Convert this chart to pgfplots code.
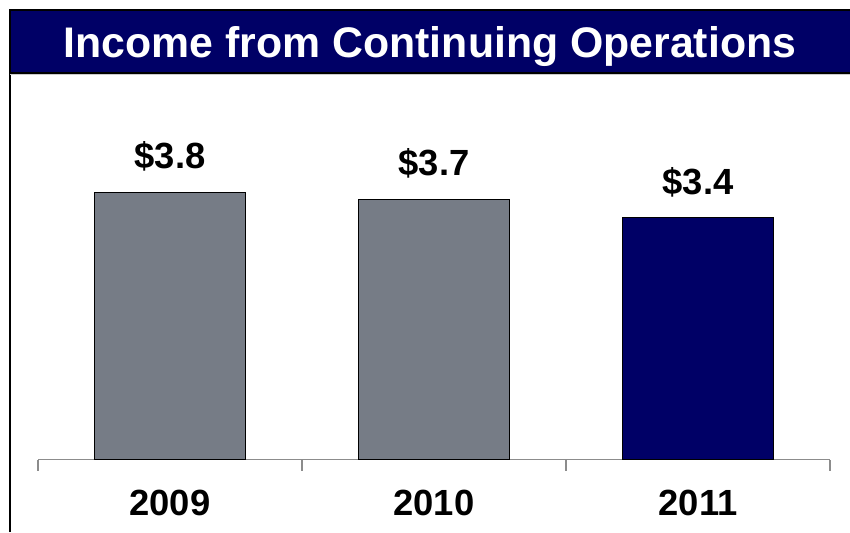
\documentclass[border=0pt]{standalone}
\usepackage{pgfplots}
\pgfplotsset{compat=1.18}
\usepackage{fontspec}
\setmainfont{Liberation Sans}
\definecolor{navy}{HTML}{000066}
\definecolor{bargray}{HTML}{767C86}
\definecolor{axisgray}{HTML}{8C8C8C}
\begin{document}
\begin{tikzpicture}[x=0.5pt,y=0.5pt]
\path[use as bounding box] (0,0) rectangle (850,532);
\fill[navy] (10,522) rectangle (850,460);
\draw[black, line width=1pt] (10,0) -- (10,522) -- (850,522);
\draw[black, line width=1pt] (10,459) -- (850,459);
\draw[gray!40, line width=0.5pt] (10,457.5) -- (850,457.5);
\node[anchor=base, text=white, font=\bfseries\fontsize{21.4}{24}\selectfont, inner sep=0pt] at (430,474.7) {Income from Continuing Operations};
\begin{axis}[
  at={(19pt,36.25pt)}, anchor=south west,
  scale only axis, width=396pt, height=175.75pt,
  xmin=-0.5, xmax=2.5, ymin=0, ymax=5, clip=false,
  hide y axis, axis x line*=bottom,
  axis line style={draw=axisgray, line width=0.65pt},
  /pgf/number format/assume math mode=true,
  tick align=outside,
  xtick={0,1,2}, xticklabels={2009,2010,2011},
  major tick length=0pt,
  xticklabel style={font=\bfseries\fontsize{18.2}{21}\selectfont, anchor=base, yshift=-27.75pt, inner sep=0pt},
  extra x ticks={-0.5,0.5,1.5,2.5}, extra x tick labels={},
  extra x tick style={major tick length=5.5pt, tick style={draw=axisgray, line width=0.65pt}},
  nodes near coords={\$\pgfmathprintnumber[fixed,precision=1,fixed zerofill]{\pgfplotspointmeta}},
  every node near coord/.append style={anchor=base, yshift=11.8pt, inner sep=0pt, text=black, font=\bfseries\fontsize{18.2}{21}\selectfont},
]
\addplot[ybar, bar shift=0pt, bar width=75.5pt, fill=bargray, draw=black, line width=0.75pt] coordinates {(0,3.8) (1,3.7)};
\addplot[ybar, bar shift=0pt, bar width=75.5pt, fill=navy, draw=black, line width=0.75pt] coordinates {(2,3.44)};
\end{axis}
\end{tikzpicture}
\end{document}
